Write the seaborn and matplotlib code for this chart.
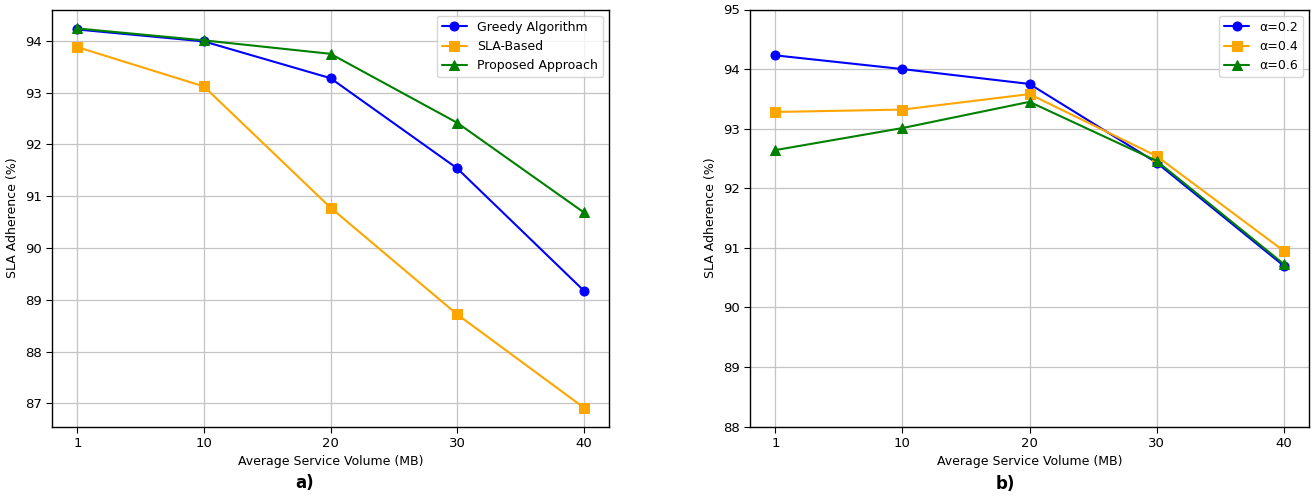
import matplotlib
matplotlib.use("Agg")
import matplotlib.pyplot as plt
import seaborn as sns
import pandas as pd

# Average service volume (MB) levels shown on the x axis
volumes = ["1", "10", "20", "30", "40"]

# Panel a: SLA adherence (%) per allocation strategy
greedy = [94.22, 93.99, 93.28, 91.54, 89.18]
sla_based = [93.88, 93.12, 90.78, 88.72, 86.92]
proposed = [94.24, 94.01, 93.75, 92.42, 90.69]

# Panel b: SLA adherence (%) of the proposed approach for different alpha
alpha_02 = [94.23, 94.00, 93.75, 92.43, 90.70]
alpha_04 = [93.28, 93.32, 93.58, 92.54, 90.95]
alpha_06 = [92.64, 93.01, 93.45, 92.46, 90.73]

colors = ["blue", "orange", "green"]
markers = ["o", "s", "^"]

sns.set_style("ticks")
plt.rcParams["font.family"] = ["DejaVu Sans"]
plt.rcParams.update({
    "text.color": "black",
    "axes.labelcolor": "black",
    "xtick.color": "black",
    "ytick.color": "black",
})

W, H = 1316, 497
fig = plt.figure(figsize=(W / 100, H / 100), dpi=100)
ax_a = fig.add_axes([52 / W, 1 - 426.5 / H, 557 / W, 417 / H])
ax_b = fig.add_axes([750 / W, 1 - 426.5 / H, 559 / W, 417 / H])


def draw_panel(ax, series, labels):
    pos = list(range(len(volumes)))
    for vals, lab, col, mk in zip(series, labels, colors, markers):
        df = pd.DataFrame({"pos": pos, "val": vals})
        sns.lineplot(data=df, x="pos", y="val", ax=ax, color=col, marker=mk,
                     markersize=6.5, markeredgecolor=col, linewidth=1.5,
                     label=lab)
    ax.set_xticks(pos)
    ax.set_xticklabels(volumes)
    ax.grid(True, color="#c4c4c4", linewidth=0.9)
    ax.set_axisbelow(True)
    ax.set_xlabel("Average Service Volume (MB)", fontsize=9)
    ax.set_ylabel("SLA Adherence (%)", fontsize=9)
    ax.tick_params(labelsize=9.5, length=4, width=0.8)
    for s in ax.spines.values():
        s.set_color("black")
        s.set_linewidth(1.0)
    ax.legend(loc="upper right", fontsize=9, frameon=True, fancybox=True,
              framealpha=0.8, edgecolor="#cccccc")


draw_panel(ax_a, [greedy, sla_based, proposed],
           ["Greedy Algorithm", "SLA-Based", "Proposed Approach"])
draw_panel(ax_b, [alpha_02, alpha_04, alpha_06],
           ["α=0.2", "α=0.4", "α=0.6"])
ax_b.set_ylim(88, 95)

fig.text(305 / W, 1 - 483 / H, "a)", ha="center", va="center",
         fontsize=12, fontweight="bold")
fig.text(1005 / W, 1 - 484 / H, "b)", ha="center", va="center",
         fontsize=12, fontweight="bold")

fig.savefig("out.png", dpi=100)
